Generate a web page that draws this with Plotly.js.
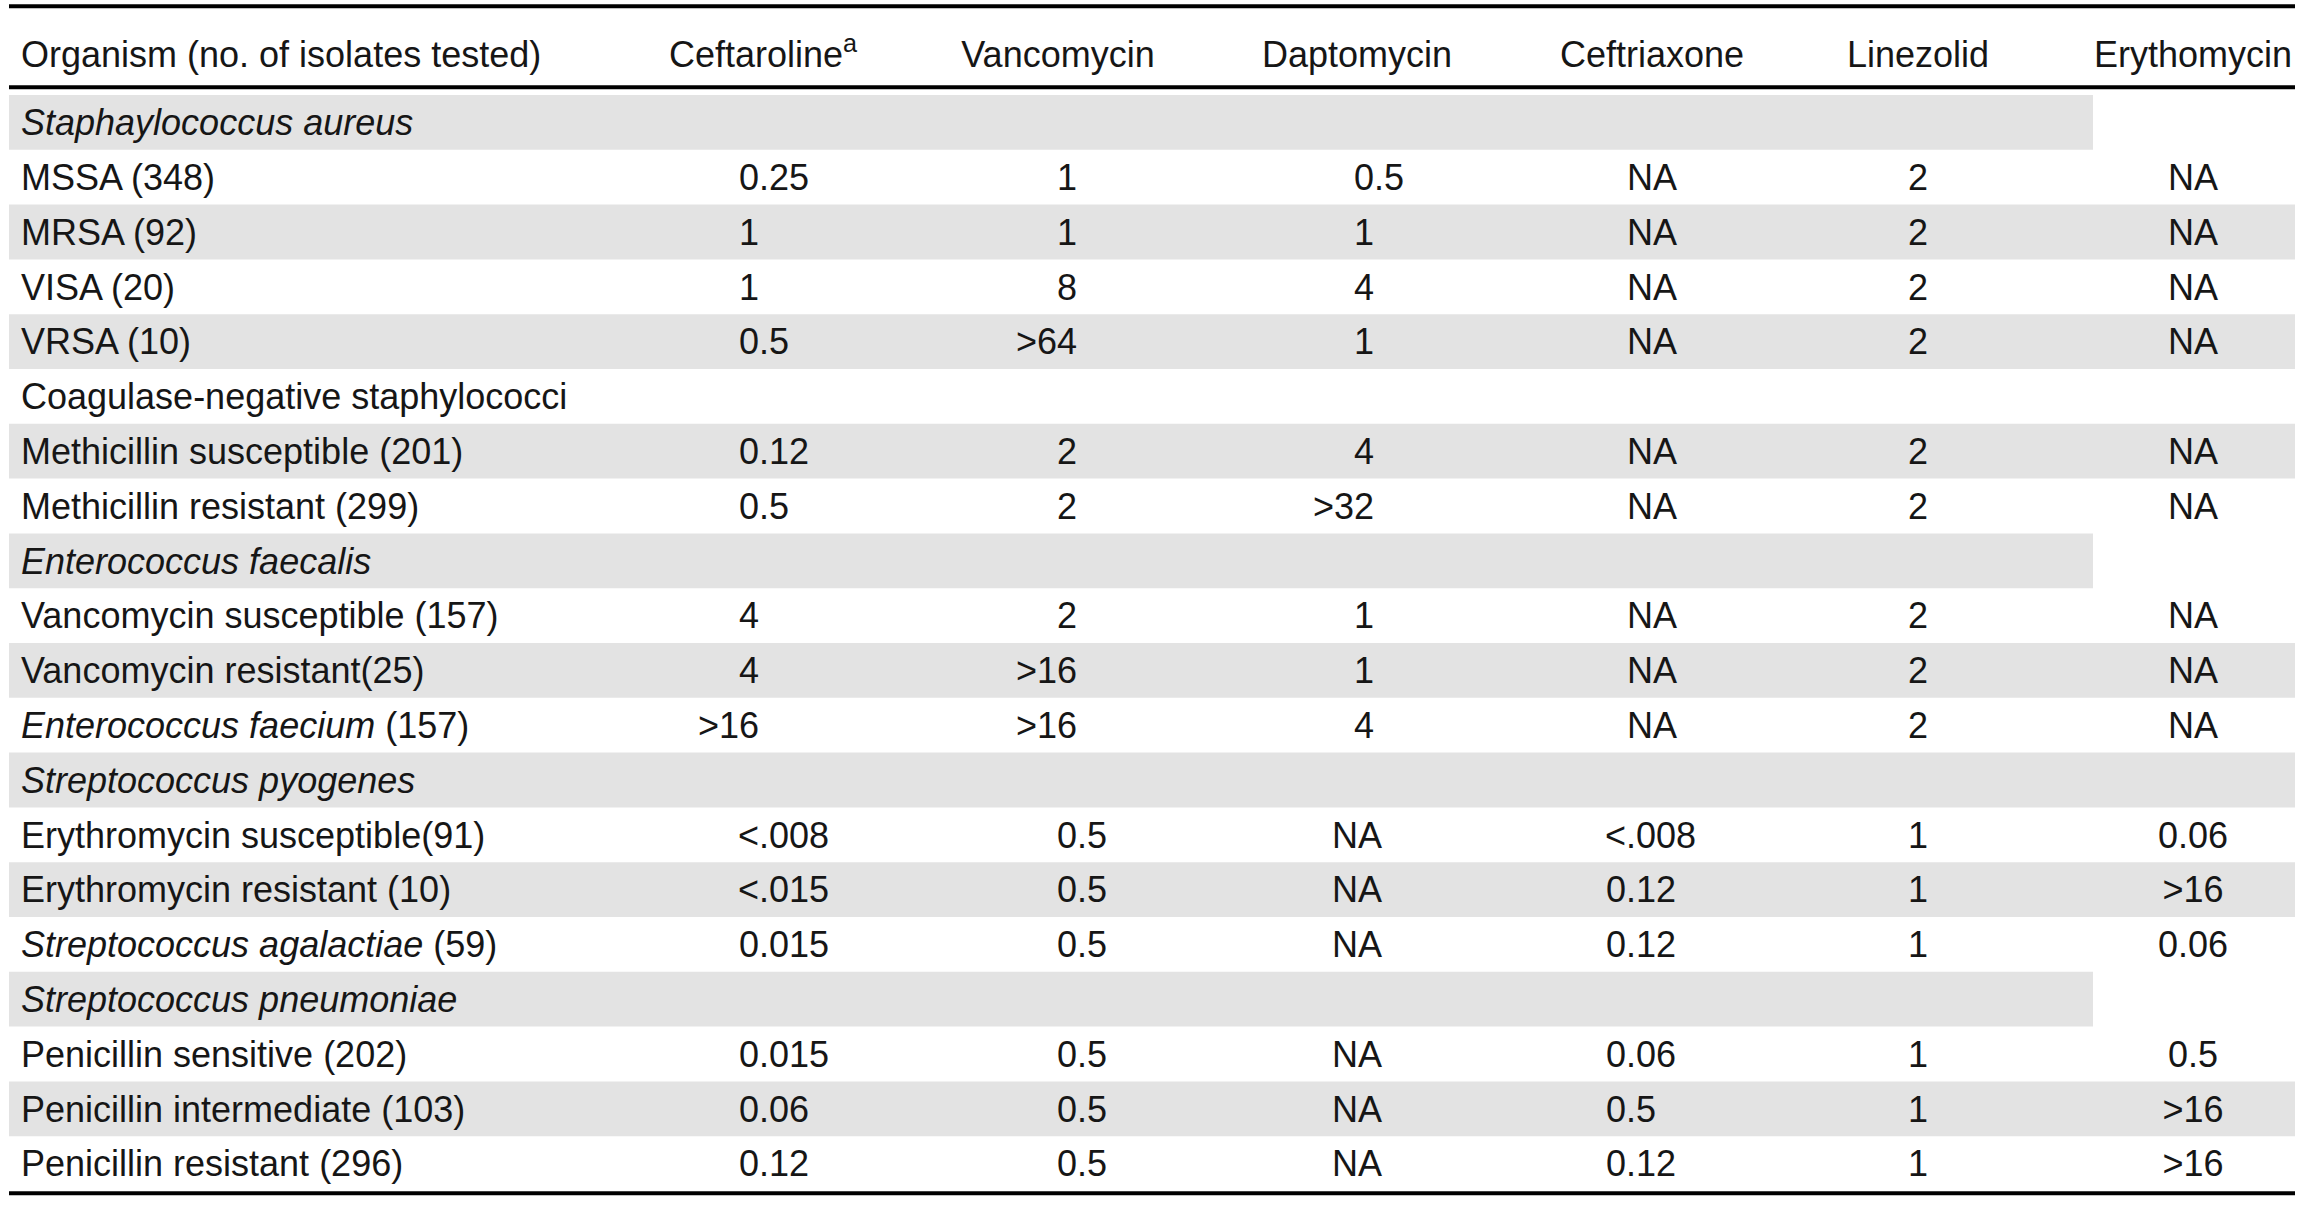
<!DOCTYPE html>
<html>
<head>
<meta charset="utf-8">
<script src="https://cdn.plot.ly/plotly-3.0.1.min.js"></script>
<style>html,body{margin:0;padding:0;background:#fff;}#chart{width:2313px;height:1206px;}</style>
</head>
<body>
<div id="chart"></div>
<script>
// ---- data ----
const headerFirst = "Organism (no. of isolates tested)";
const drugs = ["Ceftaroline<sup>a</sup>", "Vancomycin", "Daptomycin", "Ceftriaxone", "Linezolid", "Erythomycin"];
const organisms = [
  "<i>Staphaylococcus aureus</i>", "MSSA (348)", "MRSA (92)", "VISA (20)", "VRSA (10)",
  "Coagulase-negative staphylococci", "Methicillin susceptible (201)", "Methicillin resistant (299)",
  "<i>Enterococcus faecalis</i>", "Vancomycin susceptible (157)", "Vancomycin resistant(25)",
  "<i>Enterococcus faecium</i> (157)", "<i>Streptococcus pyogenes</i>", "Erythromycin susceptible(91)",
  "Erythromycin resistant (10)", "<i>Streptococcus agalactiae</i> (59)", "<i>Streptococcus pneumoniae</i>",
  "Penicillin sensitive (202)", "Penicillin intermediate (103)", "Penicillin resistant (296)"
];
const ceftaroline  = ["", "0.25", "1", "1", "0.5", "", "0.12", "0.5", "", "4", "4", ">16", "", "<.008", "<.015", "0.015", "", "0.015", "0.06", "0.12"];
const vancomycin   = ["", "1", "1", "8", ">64", "", "2", "2", "", "2", ">16", ">16", "", "0.5", "0.5", "0.5", "", "0.5", "0.5", "0.5"];
const daptomycin   = ["", "0.5", "1", "4", "1", "", "4", ">32", "", "1", "1", "4", "", "NA", "NA", "NA", "", "NA", "NA", "NA"];
const ceftriaxone  = ["", "NA", "NA", "NA", "NA", "", "NA", "NA", "", "NA", "NA", "NA", "", "<.008", "0.12", "0.12", "", "0.06", "0.5", "0.12"];
const linezolid    = ["", "2", "2", "2", "2", "", "2", "2", "", "2", "2", "2", "", "1", "1", "1", "", "1", "1", "1"];
const erythromycin = ["", "NA", "NA", "NA", "NA", "", "NA", "NA", "", "NA", "NA", "NA", "", "0.06", ">16", "0.06", "", "0.5", ">16", ">16"];

// ---- layout / style ----
const W = 2313, H = 1206;
const FONT = "Liberation Sans, Arial, sans-serif";
const FS = 36;
const TXT = "#161616";
const GRAY = "#e3e3e3";
const rowPx = 54.8, row0Px = 122.4;
const yTop = -row0Px / rowPx, yBot = (H - row0Px) / rowPx;
const textShift = 0.07;
const labelX = 21;
const headerCenters = [763, 1058, 1357, 1652, 1918, 2193];
// per column: decimal anchor (null => centred)
const decimalX = [759, 1077, 1374, 1626, null, null];
const tableLeft = 9, tableRight = 2295, partialRight = 2093;
const partialRows = [0, 8, 16];
const yHeader = -1.24, yTopRule = -2.12, yHeadRule = -0.64, yBotRule = 19.54;

const columns = [ceftaroline, vancomycin, daptomycin, ceftriaxone, linezolid, erythromycin];
const esc = s => s.replace(/</g, "&lt;").replace(/>/g, "&gt;");

const traces = [];
function textTrace(xs, ys, texts, pos) {
  traces.push({
    type: "scatter", mode: "text", x: xs, y: ys.map(v => v + textShift), text: texts,
    textposition: pos, cliponaxis: false, hoverinfo: "skip", showlegend: false,
    textfont: {family: FONT, size: FS, color: TXT}
  });
}

// row labels
textTrace(organisms.map(() => labelX), organisms.map((_, i) => i), organisms, "middle right");
// header
textTrace([labelX], [yHeader], [headerFirst], "middle right");
textTrace(headerCenters, headerCenters.map(() => yHeader), drugs, "middle center");

// value cells
columns.forEach((col, c) => {
  const cx = [], cy = [], ct = [];
  const lx = [], ly = [], lt = [];
  const rx = [], ry = [], rt = [];
  col.forEach((v, i) => {
    if (!v) return;
    if (v === "NA" || decimalX[c] === null) {
      cx.push(headerCenters[c]); cy.push(i); ct.push(esc(v));
    } else {
      const k = v.indexOf(".");
      const left = k < 0 ? v : v.slice(0, k);
      const right = k < 0 ? "" : v.slice(k);
      if (left) { lx.push(decimalX[c]); ly.push(i); lt.push(esc(left)); }
      if (right) { rx.push(decimalX[c]); ry.push(i); rt.push(esc(right)); }
    }
  });
  if (ct.length) textTrace(cx, cy, ct, "middle center");
  if (lt.length) textTrace(lx, ly, lt, "middle left");
  if (rt.length) textTrace(rx, ry, rt, "middle right");
});

// shapes: shaded bands + rules
const shapes = [];
organisms.forEach((_, i) => {
  if (i % 2 !== 0) return;
  shapes.push({
    type: "rect", xref: "x", yref: "y", layer: "below",
    x0: tableLeft, x1: partialRows.includes(i) ? partialRight : tableRight,
    y0: i - 0.5, y1: i + 0.5, fillcolor: GRAY, line: {width: 0}
  });
});
[yTopRule, yHeadRule, yBotRule].forEach(y => {
  shapes.push({type: "line", xref: "x", yref: "y", x0: tableLeft, x1: tableRight, y0: y, y1: y,
               line: {color: "#000", width: 4}});
});

const layout = {
  width: W, height: H,
  margin: {l: 0, r: 0, t: 0, b: 0},
  paper_bgcolor: "#fff", plot_bgcolor: "#fff",
  xaxis: {range: [0, W], visible: false, fixedrange: true},
  yaxis: {range: [yBot, yTop], visible: false, fixedrange: true},
  shapes: shapes,
  showlegend: false
};
Plotly.newPlot("chart", traces, layout, {staticPlot: true, displayModeBar: false});
</script>
</body>
</html>
